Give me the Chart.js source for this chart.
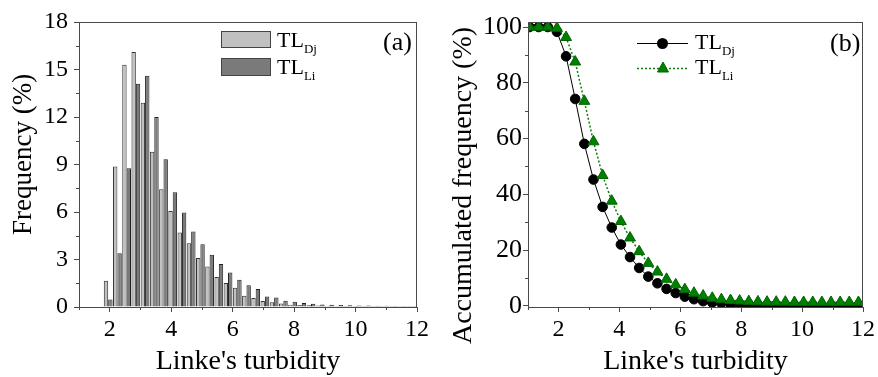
<!DOCTYPE html>
<html>
<head>
<meta charset="utf-8">
<script src="https://cdn.jsdelivr.net/npm/chart.js@4.4.1/dist/chart.umd.min.js"></script>
<style>
html,body{margin:0;padding:0;background:#fff;}
#wrap{position:relative;width:878px;height:377px;overflow:hidden;font-family:"Liberation Serif","Times New Roman",serif;color:#000;}
#c1{position:absolute;left:0;top:0;}
#c2{position:absolute;left:440px;top:0;}
.lab{position:absolute;font-size:26px;line-height:1;white-space:nowrap;}
.leg{position:absolute;font-size:22px;line-height:1;white-space:nowrap;}
.leg sub{font-size:13px;vertical-align:-6px;line-height:0;}
.box{position:absolute;box-sizing:border-box;border:1px solid #444;}
svg{position:absolute;overflow:visible;}
</style>
</head>
<body>
<div id="wrap">
  <canvas id="c1" width="440" height="377"></canvas>
  <canvas id="c2" width="438" height="377"></canvas>

  <div class="box" style="left:221px;top:31px;width:50px;height:17px;background:#c0c0c0;"></div>
  <div class="box" style="left:221px;top:58px;width:50px;height:18px;background:#7a7a7a;"></div>
  <div class="leg" style="left:277px;top:29px;">TL<sub>Dj</sub></div>
  <div class="leg" style="left:277px;top:56px;">TL<sub>Li</sub></div>
  <div class="lab" style="left:383px;top:29px;">(a)</div>

  <svg style="left:0;top:0;" width="878" height="377">
    <line x1="637" y1="43.5" x2="688" y2="43.5" stroke="#000" stroke-width="1"/>
    <circle cx="662.5" cy="43.5" r="5.5" fill="#000"/>
    <line x1="637" y1="68.5" x2="688" y2="68.5" stroke="#0a800a" stroke-width="1.5" stroke-dasharray="2,2"/>
    <polygon points="663,62 668.5,72 657.5,72" fill="#008000" stroke="#006400" stroke-width="1"/>
  </svg>
  <div class="leg" style="left:695px;top:31px;">TL<sub>Dj</sub></div>
  <div class="leg" style="left:695px;top:56px;">TL<sub>Li</sub></div>
  <div class="lab" style="left:830px;top:30px;">(b)</div>
</div>

<script>
// ---------- data ----------
const binCenters = [1.95,2.25,2.55,2.85,3.15,3.45,3.75,4.05,4.35,4.65,4.95,5.25,5.55,5.85,6.15,6.45,6.75,7.05,7.35,7.65,7.95,8.25,8.55,8.85,9.15,9.45,9.75,10.05,10.35,10.65,10.95,11.25,11.55,11.85];
const freqDj = [1.66,8.87,15.3,16.1,12.9,9.8,7.44,6.07,4.7,4.03,3.09,2.56,1.89,1.51,1.22,0.71,0.57,0.38,0.30,0.22,0.15,0.13,0.11,0.09,0.08,0.08,0.07,0.06,0.06,0.06,0.06,0.06,0.06,0.06];
const freqLi = [0.48,3.40,8.76,14.1,14.6,12.0,9.33,7.25,5.97,4.77,3.97,3.30,2.71,2.18,1.72,1.37,1.13,0.66,0.60,0.40,0.33,0.25,0.21,0.16,0.14,0.12,0.11,0.10,0.09,0.08,0.08,0.07,0.07,0.07];

const cumX = [1.05,1.35,1.65,1.95,2.25,2.55,2.85,3.15,3.45,3.75,4.05,4.35,4.65,4.95,5.25,5.55,5.85,6.15,6.45,6.75,7.05,7.35,7.65,7.95,8.25,8.55,8.85,9.15,9.45,9.75,10.05,10.35,10.65,10.95,11.25,11.55,11.85];
const cumDj = [100,100,100,98.3,89.5,74.2,58.1,45.3,35.5,28.1,22.0,17.5,13.6,10.5,8.1,6.1,4.6,3.3,2.4,1.7,1.2,0.9,0.7,0.5,0.4,0.35,0.3,0.25,0.2,0.2,0.15,0.15,0.1,0.1,0.1,0.1,0.1];
const cumLi = [100,100,100,99.6,96.3,87.5,73.4,58.9,46.8,37.6,30.3,24.4,19.5,15.3,12.2,9.6,7.6,5.9,4.6,3.6,2.8,2.3,2.0,1.8,1.6,1.5,1.4,1.4,1.4,1.3,1.3,1.3,1.3,1.3,1.3,1.3,1.3];

const xTicks = [2,4,6,8,10,12];
const xMinor = [1,3,5,7,9,11];
const yTicksA = [0,3,6,9,12,15,18];
const yMinorA = [1.5,4.5,7.5,10.5,13.5,16.5];
const yTicksB = [0,20,40,60,80,100];
const yMinorB = [10,30,50,70,90];

const titleX = "Linke's turbidity";
const titleYA = "\u00a0\u00a0\u00a0Frequency (%)";
const titleYB = "Accumulated frequency (%)\u00a0\u00a0\u00a0\u00a0\u00a0\u00a0";
const labelsDj = "TL_Dj", labelsLi = "TL_Li";

// ---------- styling ----------
const FONT = '"Liberation Serif","Times New Roman",serif';
const AX = '#4a4a4a';

const framePlugin = {
  id: 'frameMinor',
  afterDraw(chart, args, opts) {
    const {ctx, chartArea: a, scales} = chart;
    ctx.save();
    ctx.strokeStyle = opts.color || AX;
    ctx.lineWidth = 1;
    ctx.strokeRect(Math.round(a.left)+0.5, Math.round(a.top)+0.5, Math.round(a.right-a.left)-1, Math.round(a.bottom-a.top));
    ctx.beginPath();
    (opts.xMinor||[]).forEach(v => {
      const px = Math.round(scales.x.getPixelForValue(v)) + 0.5;
      ctx.moveTo(px, a.bottom); ctx.lineTo(px, a.bottom + 3);
    });
    (opts.yMinor||[]).forEach(v => {
      const py = Math.round(scales.y.getPixelForValue(v)) + 0.5;
      ctx.moveTo(a.left, py); ctx.lineTo(a.left - 3, py);
    });
    ctx.stroke();
    ctx.restore();
  }
};

function xScale(ticksArr, h) {
  return {
    type: 'linear', min: 1, max: 12, offset: false,
    afterBuildTicks: s => { s.ticks = ticksArr.map(v => ({value: v})); },
    afterFit: s => { s.height = h; },
    grid: {drawOnChartArea: false, drawTicks: true, tickLength: 5, tickColor: AX, color: AX, offset: false},
    border: {display: true, color: AX, width: 1},
    ticks: {color: '#000', font: {family: FONT, size: 24}, padding: 3, maxRotation: 0, autoSkip: false},
    title: {display: true, text: titleX, color: '#000', font: {family: FONT, size: 28, lineHeight: 1.1}, padding: {top: 0, bottom: 0}}
  };
}
function yScale(min, max, ticksArr, w, title, titlePad, tickPad, tsize, lsize) {
  return {
    type: 'linear', min: min, max: max,
    afterBuildTicks: s => { s.ticks = ticksArr.map(v => ({value: v})); },
    afterFit: s => { s.width = w; },
    grid: {drawOnChartArea: false, drawTicks: true, tickLength: 5, tickColor: AX, color: AX},
    border: {display: true, color: AX, width: 1},
    ticks: {color: '#000', font: {family: FONT, size: lsize}, padding: tickPad, autoSkip: false},
    title: {display: true, text: title, color: '#000', font: {family: FONT, size: tsize, lineHeight: 1.1}, padding: {top: titlePad, bottom: 0}}
  };
}

// ---------- chart (a) ----------
new Chart(document.getElementById('c1'), {
  type: 'bar',
  data: {
    datasets: [
      {label: labelsDj, data: binCenters.map((x, i) => ({x: x, y: freqDj[i]})),
       backgroundColor: '#c0c0c0', borderColor: '#333', borderWidth: 1,
       categoryPercentage: 0.95, barPercentage: 1.0},
      {label: labelsLi, data: binCenters.map((x, i) => ({x: x, y: freqLi[i]})),
       backgroundColor: '#7a7a7a', borderColor: '#222', borderWidth: 1,
       categoryPercentage: 0.95, barPercentage: 1.0}
    ]
  },
  options: {
    responsive: false, animation: false, devicePixelRatio: 1,
    layout: {padding: {left: 0, top: 22, right: 23, bottom: 0}},
    scales: {x: xScale(xTicks, 70), y: yScale(0, 18, yTicksA, 79, titleYA, 9, 6, 27, 24)},
    plugins: {legend: {display: false}, tooltip: {enabled: false},
              frameMinor: {xMinor: xMinor, yMinor: yMinorA, color: AX}}
  },
  plugins: [framePlugin]
});

// ---------- chart (b) ----------
new Chart(document.getElementById('c2'), {
  type: 'line',
  data: {
    datasets: [
      {label: labelsDj, data: cumX.map((x, i) => ({x: x, y: cumDj[i]})),
       borderColor: '#000', borderWidth: 1, pointStyle: 'circle', pointRadius: 4.8,
       pointBackgroundColor: '#000', pointBorderColor: '#000', pointBorderWidth: 1, order: 1, tension: 0},
      {label: labelsLi, data: cumX.map((x, i) => ({x: x, y: cumLi[i]})),
       borderColor: '#0a800a', borderWidth: 1.5, borderDash: [2, 2], pointStyle: 'triangle', pointRadius: 6.3,
       pointBackgroundColor: '#008000', pointBorderColor: '#006400', pointBorderWidth: 1, order: 0, tension: 0}
    ]
  },
  options: {
    responsive: false, animation: false, devicePixelRatio: 1,
    layout: {padding: {left: 0, top: 22, right: 11, bottom: 0}},
    scales: {x: xScale(xTicks, 70), y: yScale(-0.4, 101.8, yTicksB, 88, titleYB, 8, 1, 28, 26)},
    plugins: {legend: {display: false}, tooltip: {enabled: false},
              frameMinor: {xMinor: xMinor, yMinor: yMinorB, color: AX}}
  },
  plugins: [framePlugin]
});
</script>
</body>
</html>
